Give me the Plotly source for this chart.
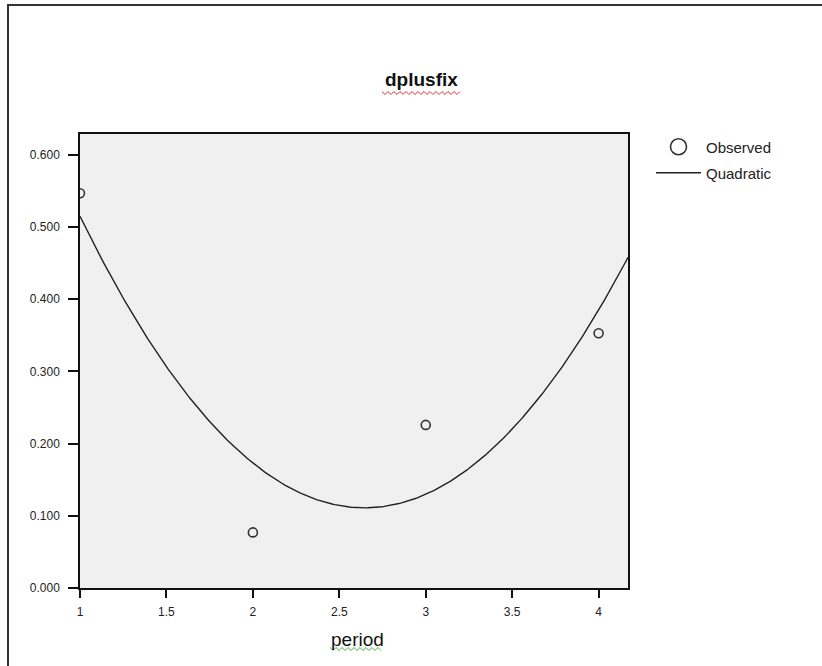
import numpy as np
import plotly.graph_objects as go

# ---- data ----
period = [1, 2, 3, 4]
dplusfix = [0.547, 0.077, 0.226, 0.353]
x_ticks = [1, 1.5, 2, 2.5, 3, 3.5, 4]
y_ticks = [0.0, 0.1, 0.2, 0.3, 0.4, 0.5, 0.6]
x_range = [1, 4.17]
y_range = [0, 0.629]

# quadratic curve fit of the observed values (as in the original curve-fit chart)
coef = np.polyfit(period, dplusfix, 2)
xs = np.linspace(x_range[0], x_range[1], 300)
ys = np.polyval(coef, xs)

W, H = 822, 666
L, R, T, B = 80, 628, 134, 588


def px(xp):
    return (xp - L) / (R - L)


def py(yp):
    return (B - yp) / (B - T)


FONT = "Arial, Liberation Sans, sans-serif"

fig = go.Figure()
fig.add_trace(go.Scatter(
    x=xs, y=ys, mode="lines", name="Quadratic", showlegend=False,
    line=dict(color="#222222", width=1.4), hoverinfo="skip"))
fig.add_trace(go.Scatter(
    x=period, y=dplusfix, mode="markers", name="Observed", showlegend=False,
    marker=dict(symbol="circle-open", size=9, color="#333333",
                line=dict(width=1.6, color="#333333"))))
# legend entries
fig.add_trace(go.Scatter(
    x=[None], y=[None], mode="markers", name="Observed", legend="legend",
    marker=dict(symbol="circle-open", size=16, color="#333333",
                line=dict(width=1.6, color="#333333"))))
fig.add_trace(go.Scatter(
    x=[None], y=[None], mode="lines", name="Quadratic", legend="legend2",
    line=dict(color="#222222", width=1.3)))


def wavy(x0, x1, yp, amp=1.5, step=3):
    pts = []
    n = int((x1 - x0) / step)
    for i in range(n + 1):
        xx = x0 + i * step
        yy = yp + (amp if i % 2 else -amp)
        pts.append((px(xx), py(yy)))
    return "M " + " L ".join(f"{a:.5f},{b:.5f}" for a, b in pts)


shapes = [
    # outer frame
    dict(type="rect", xref="paper", yref="paper",
         x0=px(8), x1=px(840), y0=py(690), y1=py(5),
         line=dict(color="#333333", width=2), fillcolor="rgba(0,0,0,0)", layer="above"),
    dict(type="path", xref="paper", yref="paper", path=wavy(382, 460, 93),
         line=dict(color="#e03030", width=1)),
    dict(type="path", xref="paper", yref="paper", path=wavy(330, 383, 649),
         line=dict(color="#40b040", width=1)),
]

annotations = [
    dict(text="<b>dplusfix</b>", xref="paper", yref="paper", x=px(421), y=py(80),
         showarrow=False, font=dict(family=FONT, size=19, color="#111111"),
         xanchor="center", yanchor="middle"),
    dict(text="period", xref="paper", yref="paper", x=px(357), y=py(639),
         showarrow=False, font=dict(family=FONT, size=19, color="#111111"),
         xanchor="center", yanchor="middle"),
]

legend_common = dict(xanchor="left", yanchor="middle", bgcolor="rgba(0,0,0,0)",
                     itemwidth=45, font=dict(family=FONT, size=15, color="#222222"))

fig.update_layout(
    width=W, height=H,
    margin=dict(l=L, r=W - R, t=T, b=H - B, pad=0),
    paper_bgcolor="white", plot_bgcolor="#f0f0f0",
    font=dict(family=FONT, size=12, color="#222222"),
    showlegend=True,
    legend=dict(x=px(651), y=py(147), **legend_common),
    legend2=dict(x=px(651), y=py(173), **legend_common),
    shapes=shapes, annotations=annotations,
)
fig.update_xaxes(range=x_range, tickvals=x_ticks, ticktext=[f"{v:g}" for v in x_ticks],
                 showgrid=False, zeroline=False, showline=True, linecolor="#111111",
                 linewidth=1.5, mirror=True, ticks="outside", ticklen=8, tickwidth=1.5,
                 tickcolor="#111111", tickfont=dict(size=12, color="#222222"),
                 ticklabelstandoff=4)
fig.update_yaxes(range=y_range, tickvals=y_ticks, ticktext=[f"{v:.3f}" for v in y_ticks],
                 showgrid=False, zeroline=False, showline=True, linecolor="#111111",
                 linewidth=1.5, mirror=True, ticks="outside", ticklen=10, tickwidth=1.5,
                 tickcolor="#111111", tickfont=dict(size=12, color="#222222"),
                 ticklabelstandoff=6)

fig.write_html("out.html", config={"displayModeBar": False},
               post_script="document.body.style.margin='0';")
